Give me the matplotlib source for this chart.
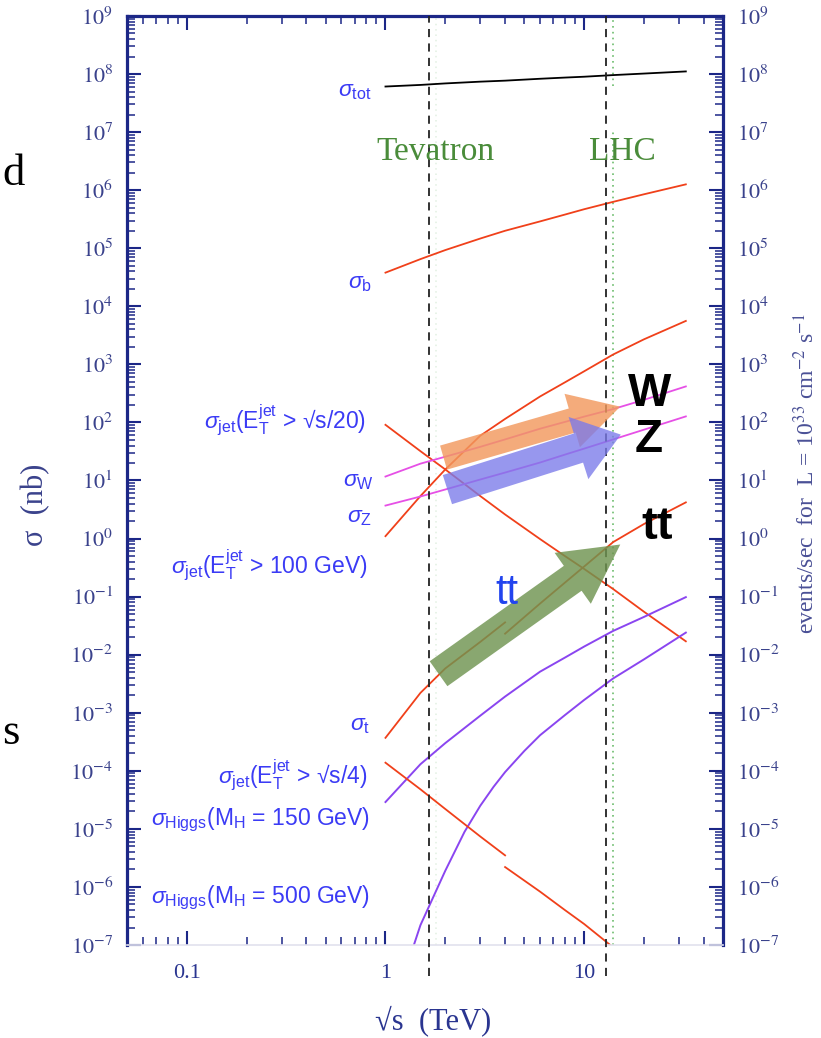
import math
import matplotlib
matplotlib.use('Agg')
import matplotlib.pyplot as plt
from matplotlib.patches import FancyArrowPatch, ArrowStyle
from matplotlib.ticker import LogLocator, FuncFormatter, NullFormatter

plt.rcParams['mathtext.fontset'] = 'custom'
plt.rcParams['mathtext.rm'] = 'Liberation Sans'
plt.rcParams['mathtext.it'] = 'Liberation Sans:italic'
plt.rcParams['mathtext.bf'] = 'Liberation Sans:bold'
plt.rcParams['font.family'] = ['Liberation Sans', 'DejaVu Sans']

# ---------------- data (sqrt(s) in TeV, sigma in nb) ----------------
E = [1, 1.5, 2, 3, 4, 6, 8, 10, 14, 20, 32.5]
sig_tot = [6.1e7, 6.5e7, 6.9e7, 7.4e7, 7.7e7, 8.3e7, 8.7e7, 9.0e7, 9.6e7, 1.02e8, 1.11e8]
sig_b = [3.8e4, 6.5e4, 9.3e4, 1.47e5, 2.0e5, 2.9e5, 3.8e5, 4.7e5, 6.3e5, 8.5e5, 1.26e6]
sig_jet_s20 = [91, 32, 15.5, 5.4, 2.6, 0.98, 0.50, 0.30, 0.135, 0.055, 0.017]
sig_jet_100 = [1.1, 5.4, 15.5, 59, 115, 280, 490, 760, 1480, 2700, 5600]
sig_W = [11.7, 19.5, 25.7, 38, 51, 78, 102, 126, 170, 245, 417]
sig_Z = [3.7, 5.3, 7.0, 10.4, 13.7, 20.4, 27.9, 35.4, 51, 75, 127]
sig_H150 = [2.9e-5, 1.3e-4, 3.0e-4, 8.9e-4, 1.9e-3, 5.1e-3, 8.9e-3, 0.0138, 0.0257, 0.0447, 0.098]

# curves split at 4 TeV (p-pbar below, p-p above)
E_low = [1, 1.5, 2, 3, 4]
E_high = [4, 6, 8, 10, 14, 20, 32.5]
sig_t_low = [3.7e-4, 2.2e-3, 5.8e-3, 0.0166, 0.036]
sig_t_high = [0.023, 0.076, 0.174, 0.33, 0.87, 1.78, 4.2]
sig_jet_s4_low = [1.38e-4, 4.8e-5, 2.2e-5, 7.4e-6, 3.5e-6]
sig_jet_s4_high = [2.2e-6, 8.3e-7, 4.0e-7, 2.3e-7, 9.1e-8, 3.6e-8, 1.0e-8]

E_H500 = [1.3, 1.5, 2, 2.5, 3, 3.5, 4, 5, 6, 8, 10, 14, 20, 32.5]
sig_H500 = [5e-8, 2.2e-7, 1.9e-6, 8.9e-6, 2.5e-5, 5.3e-5, 9.5e-5, 2.2e-4, 4.1e-4,
            9.1e-4, 1.66e-3, 3.9e-3, 8.3e-3, 0.024]

tevatron_dash, lhc_dash = 1.65, 12.9
tevatron_dot, lhc_dot = 1.8, 14.0

# arrows (tail, tip) in data coordinates
arrow_W = ((1.96, 24.8), (15.2, 187))
arrow_Z = ((2.05, 6.97), (15.3, 61.7))
arrow_tt = ((1.85, 4.7e-3), (15.2, 0.79))

# ---------------- figure ----------------
W_PX, H_PX = 821, 1038
fig = plt.figure(figsize=(W_PX / 100, H_PX / 100), dpi=100)
ax = fig.add_axes([127 / W_PX, 1 - 945 / H_PX, (723 - 127) / W_PX, (945 - 16) / H_PX])
ax.set_xscale('log')
ax.set_yscale('log')
ax.set_xlim(0.05, 50)
ax.set_ylim(1e-7, 1e9)

red = '#f0401a'
purple = '#8a45f0'
magenta = '#e650e6'

ax.plot(E, sig_tot, color='black', lw=1.3)
ax.plot(E, sig_b, color=red, lw=1.3)
ax.plot(E, sig_jet_s20, color=red, lw=1.3)
ax.plot(E, sig_jet_100, color=red, lw=1.3)
ax.plot(E, sig_W, color=magenta, lw=1.3)
ax.plot(E, sig_Z, color=magenta, lw=1.3)
ax.plot(E, sig_H150, color=purple, lw=1.4)
ax.plot(E_H500, sig_H500, color=purple, lw=1.4)
ax.plot(E_low, sig_t_low, color=red, lw=1.3)
ax.plot(E_high, sig_t_high, color=red, lw=1.3)
ax.plot(E_low, sig_jet_s4_low, color=red, lw=1.3)
ax.plot(E_high, sig_jet_s4_high, color=red, lw=1.3)

trans = ax.get_xaxis_transform()
for xv in (tevatron_dash, lhc_dash):
    ax.plot([xv, xv], [-0.033, 1.0], transform=trans, color='#222222', lw=1.3,
            ls=(0, (4.5, 3.5)), clip_on=False, zorder=4)
ax.plot([tevatron_dot, tevatron_dot], [0, 1], transform=trans, color='#e2f0e2', lw=1.1,
        ls=(0, (1, 2.5)), zorder=1)
ax.plot([lhc_dot, lhc_dot], [0, 0.876], transform=trans, color='#6cbc6c', lw=1.2,
        ls=(0, (1, 2.5)), zorder=1)
ax.plot([lhc_dot, lhc_dot], [0.925, 1.0], transform=trans, color='#6cbc6c', lw=1.2,
        ls=(0, (1, 2.5)), zorder=1)

def fat_arrow(pts, color, alpha, hl, hw, tw):
    p = FancyArrowPatch(pts[0], pts[1],
                        arrowstyle=ArrowStyle.Simple(head_length=hl, head_width=hw, tail_width=tw),
                        mutation_scale=1, shrinkA=0, shrinkB=0, color=color, alpha=alpha,
                        lw=0, zorder=5)
    ax.add_patch(p)

fat_arrow(arrow_W, '#f2995e', 0.82, 36, 40, 18)
fat_arrow(arrow_Z, '#7a7aea', 0.78, 32, 47, 22)
fat_arrow(arrow_tt, '#6f9450', 0.82, 42, 45, 22)

# ticks and spines
navy = '#1c2787'
for side in ('left', 'right', 'top'):
    ax.spines[side].set_color(navy)
    ax.spines[side].set_linewidth(2.3)
ax.spines['bottom'].set_color('#e2e2ee')
ax.spines['bottom'].set_linewidth(1.2)

ax.yaxis.set_major_locator(LogLocator(base=10, numticks=30))
ax.yaxis.set_minor_locator(LogLocator(base=10, subs=range(2, 10), numticks=30))
ax.xaxis.set_major_locator(LogLocator(base=10, numticks=30))
ax.xaxis.set_minor_locator(LogLocator(base=10, subs=range(2, 10), numticks=30))
ax.yaxis.set_minor_formatter(NullFormatter())
ax.xaxis.set_minor_formatter(NullFormatter())
ax.yaxis.set_major_formatter(FuncFormatter(lambda v, p: r'$10^{%d}$' % round(math.log10(v))))
ax.xaxis.set_major_formatter(FuncFormatter(lambda v, p: ('%g' % v)))

ax.tick_params(which='both', direction='in', color=navy, top=True, right=True,
               labelright=True, labelleft=True, labeltop=False, labelbottom=True)
ax.tick_params(which='major', length=10, width=1.5)
ax.tick_params(which='minor', length=5.5, width=1.1)
ax.tick_params(axis='y', which='major', labelsize=16, labelcolor='#3a428c', pad=10)
ax.tick_params(axis='x', which='major', labelsize=16, labelcolor='#2a3590', pad=14)

fig.canvas.draw()
for t in ax.yaxis.get_major_ticks():
    t.label1.set_math_fontfamily('stix')
    t.label2.set_math_fontfamily('stix')
for t in ax.xaxis.get_major_ticks():
    t.label1.set_fontfamily(['Liberation Serif', 'DejaVu Serif'])

def fp(x, y):
    return x / W_PX, 1 - y / H_PX

blue = '#3b3bf5'
labels = [
    (372, 90, r'$\sigma_{\rm tot}$'),
    (372, 283, r'$\sigma_{\rm b}$'),
    (366, 420, r'$\sigma_{\rm jet}$(E$_{\rm T}^{\rm jet}$ > √s/20)'),
    (374, 481, r'$\sigma_{\rm W}$'),
    (372, 516, r'$\sigma_{\rm Z}$'),
    (368, 565, r'$\sigma_{\rm jet}$(E$_{\rm T}^{\rm jet}$ > 100 GeV)'),
    (370, 724, r'$\sigma_{\rm t}$'),
    (367, 775, r'$\sigma_{\rm jet}$(E$_{\rm T}^{\rm jet}$ > √s/4)'),
    (370, 820, r'$\sigma_{\rm Higgs}$(M$_{\rm H}$ = 150 GeV)'),
    (370, 898, r'$\sigma_{\rm Higgs}$(M$_{\rm H}$ = 500 GeV)'),
]
for x, y, s in labels:
    fig.text(*fp(x, y), s, ha='right', va='center', color=blue, fontsize=16.5)

serif = ['Liberation Serif', 'DejaVu Serif']
fig.text(*fp(435, 152), 'Tevatron', ha='center', va='center', color='#4a8c3a',
         fontsize=24, family=serif)
fig.text(*fp(622, 152), 'LHC', ha='center', va='center', color='#4a8c3a',
         fontsize=24, family=serif)

fig.text(*fp(650, 394), 'W', ha='center', va='center', color='black', fontsize=33, fontweight='bold')
fig.text(*fp(649, 440), 'Z', ha='center', va='center', color='black', fontsize=33, fontweight='bold')
fig.text(*fp(657, 527), 'tt', ha='center', va='center', color='black', fontsize=34, fontweight='bold')
fig.text(*fp(507, 593), 'tt', ha='center', va='center', color='#2244ee', fontsize=30)

fig.text(*fp(36, 505), 'σ  (nb)', rotation=90, ha='center', va='center', color='#3a428c',
         fontsize=22, family=serif)
fig.text(*fp(433, 1021), '√s  (TeV)', ha='center', va='center', color='#2a3590',
         fontsize=22, family=serif)
fig.text(*fp(806, 474), 'events/sec  for  L = 10$^{33}$ cm$^{-2}$ s$^{-1}$', rotation=90,
         ha='center', va='center', color='#4a5096', fontsize=17, family=serif,
         math_fontfamily='stix')

fig.text(*fp(2, 174), 'd', ha='left', va='center', color='black', fontsize=32, family=serif)
fig.text(*fp(2, 733), 's', ha='left', va='center', color='black', fontsize=32, family=serif)

fig.savefig('out.png', dpi=100)
